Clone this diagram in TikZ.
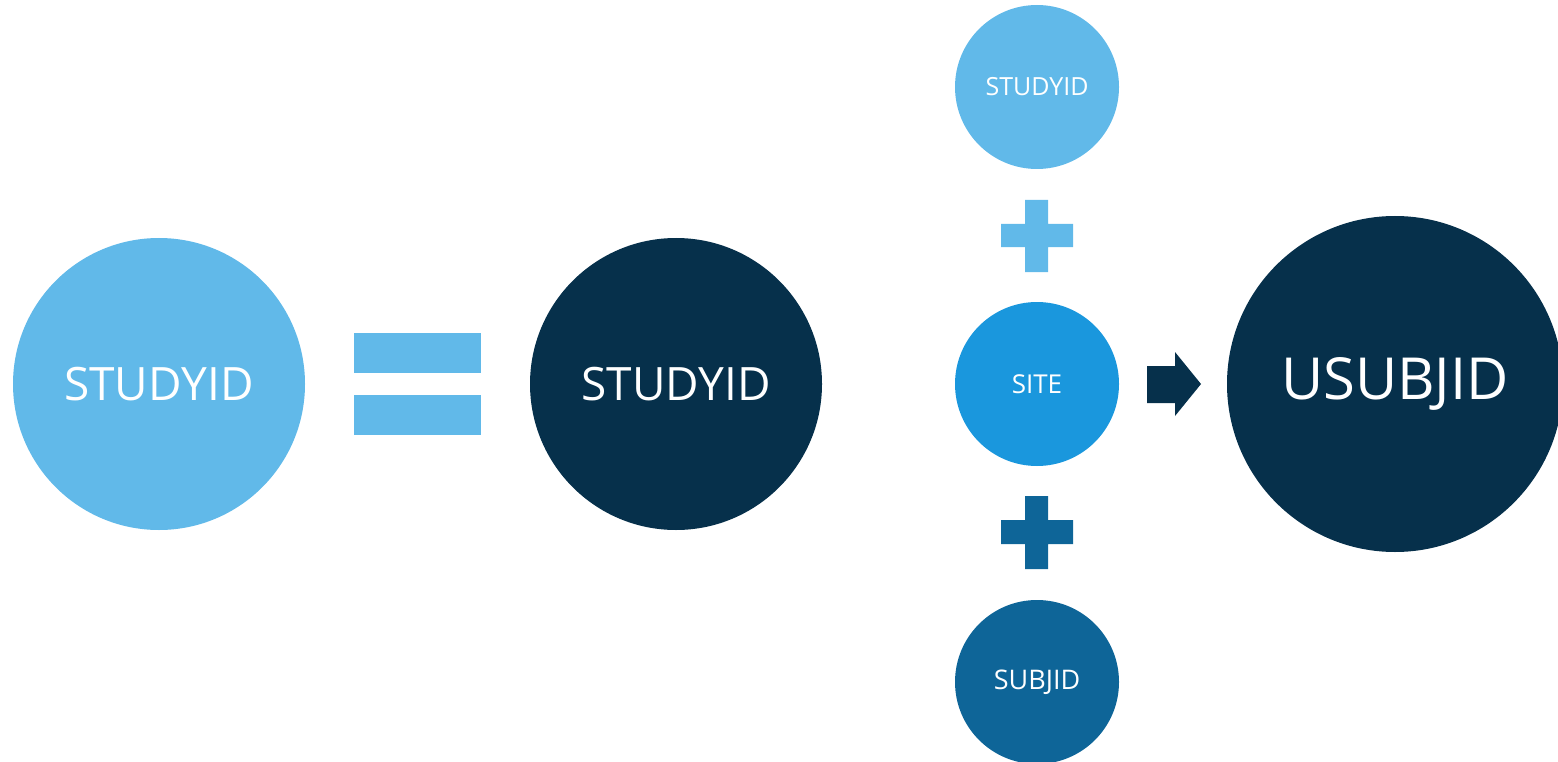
\documentclass[tikz,border=0pt]{standalone}
\usepackage{fontspec}
\setmainfont{Open Sans}
\definecolor{lightb}{HTML}{61B9E9}
\definecolor{navy}{HTML}{06304B}
\definecolor{midb}{HTML}{1A97DD}
\definecolor{darkb}{HTML}{0E6598}
\begin{document}
\begin{tikzpicture}[x=1pt,y=-1pt,
  bubble/.style={circle,inner sep=0pt,text=white},
  big/.style={bubble,minimum size=292pt,font=\fontsize{46}{50}\selectfont},
  huge/.style={bubble,minimum size=336pt,font=\fontsize{58}{62}\selectfont},
  small/.style={bubble,minimum size=164pt,font=\fontsize{25}{28}\selectfont},
  bar/.style={inner sep=0pt,minimum width=127pt,minimum height=40pt,fill=lightb}]
\useasboundingbox (0,0) rectangle (1558,762);
\clip (0,0) rectangle (1558,762);
\node[big,fill=lightb] (s1) at (159,384) {STUDYID};
\node[bar] (eq1) at (417.5,353) {};
\node[bar] (eq2) at (417.5,415) {};
\node[big,fill=navy] (s2) at (676,384) {STUDYID};
\node[small,fill=lightb] (t) at (1037,87) {STUDYID};
\node[small,fill=midb,font=\fontsize{26}{29}\selectfont] (m) at (1037,384) {SITE};
\node[small,fill=darkb,font=\fontsize{27}{30}\selectfont] (b) at (1037,682) {SUBJID};
\node[huge,fill=navy] (u) at (1395,384) {USUBJID};
% plus signs
\fill[lightb] (1001,224) rectangle (1073,247) (1025,200) rectangle (1048,272);
\fill[darkb] (1001,520) rectangle (1073,544) (1025,496) rectangle (1048,569);
% arrow
\fill[navy] (1147,366) -- (1175,366) -- (1175,352) -- (1201,384) -- (1175,416) -- (1175,403) -- (1147,403) -- cycle;
\end{tikzpicture}
\end{document}
